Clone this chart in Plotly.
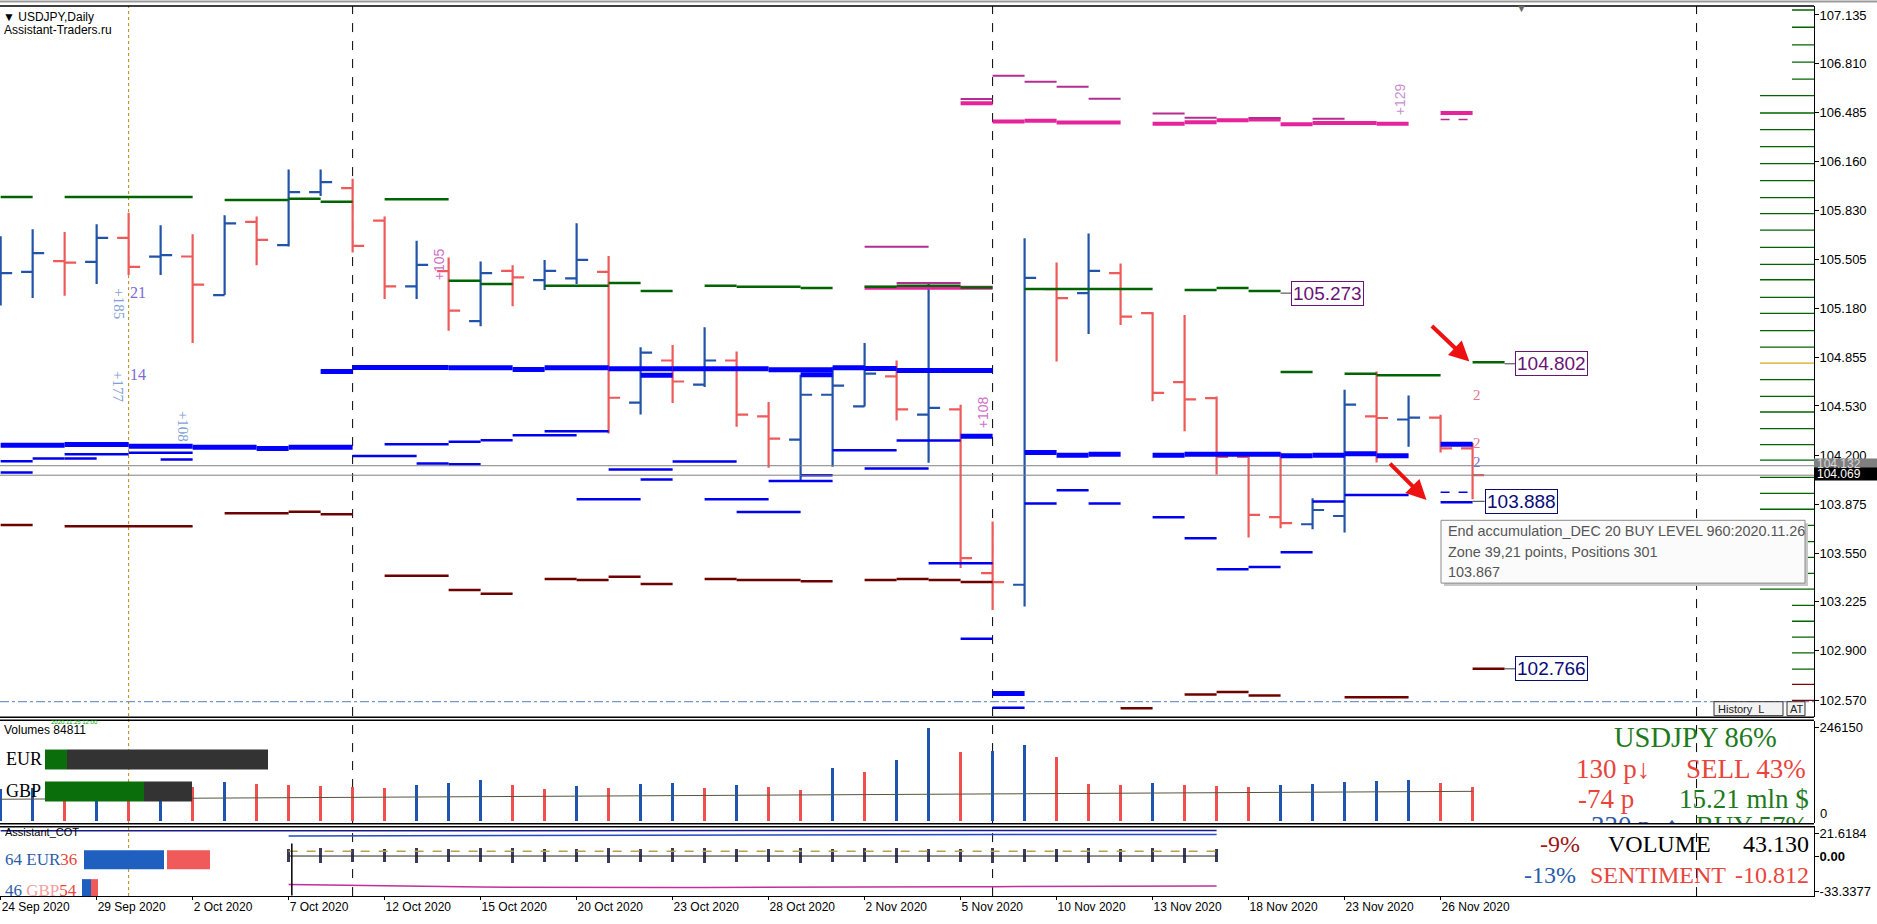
import plotly.graph_objects as go

# ---------------- DATA ----------------
bars = list(range(47))
opens = [105.400, 105.424, 105.495, 105.490, 105.650, 105.525, 105.526, 105.269, 105.756, 105.601,
         105.955, 105.982, 105.765, 105.327, 105.428, 105.096, 105.430, 105.369, 105.380, 105.424,
         104.552, 104.833, 104.672, 104.833, 104.461, 104.306, 104.605, 104.527, 104.727, 104.472,
         104.507, 103.417, 103.339, 105.309, 105.282, 105.415, 105.148, 104.689, 104.583, 104.191,
         103.790, 103.742, 103.797, 104.461, 104.440, 104.452, 104.247]
highs = [105.660, 105.707, 105.689, 105.741, 105.818, 105.734, 105.674, 105.800, 105.792, 106.106,
         106.106, 106.044, 105.792, 105.630, 105.519, 105.493, 105.468, 105.502, 105.747, 105.530,
         104.922, 104.937, 105.055, 104.893, 104.557, 104.738, 104.789, 104.950, 104.833, 105.353,
         104.539, 103.760, 105.648, 105.486, 105.679, 105.480, 105.154, 105.136, 104.594, 104.213,
         104.220, 103.915, 104.638, 104.760, 104.600, 104.472, 104.284]
lows = [105.200, 105.249, 105.264, 105.342, 105.402, 105.402, 104.950, 105.269, 105.468, 105.592,
        105.929, 105.553, 105.243, 105.243, 105.032, 105.061, 105.194, 105.302, 105.342, 104.346,
        104.474, 104.550, 104.656, 104.391, 104.118, 104.036, 104.125, 104.527, 104.434, 104.152,
        103.450, 103.171, 103.195, 104.826, 105.010, 105.070, 104.561, 104.361, 104.074, 103.654,
        103.715, 103.709, 103.687, 104.154, 104.258, 104.220, 103.908]
closes = [105.415, 105.548, 105.485, 105.650, 105.457, 105.535, 105.338, 105.747, 105.636, 105.955,
          106.022, 105.596, 105.327, 105.470, 105.165, 105.415, 105.387, 105.430, 105.503, 104.585,
          104.886, 104.693, 104.833, 104.472, 104.313, 104.605, 104.665, 104.745, 104.507, 104.517,
          103.516, 103.357, 105.384, 105.249, 105.430, 105.125, 104.618, 104.574, 104.191, 103.804,
          103.749, 103.837, 104.539, 104.450, 104.452, 104.247, 104.069]

tick_bars = [0, 3, 6, 9, 12, 15, 18, 21, 24, 27, 30, 33, 36, 39, 42, 45]
tick_labels = ["24 Sep 2020", "29 Sep 2020", "2 Oct 2020", "7 Oct 2020", "12 Oct 2020",
               "15 Oct 2020", "20 Oct 2020", "23 Oct 2020", "28 Oct 2020", "2 Nov 2020",
               "5 Nov 2020", "10 Nov 2020", "13 Nov 2020", "18 Nov 2020", "23 Nov 2020",
               "26 Nov 2020"]
price_ticks = [107.135, 106.810, 106.485, 106.160, 105.830, 105.505, 105.180, 104.855,
               104.530, 104.200, 103.875, 103.550, 103.225, 102.900, 102.570]

volumes = [84000, 88000, 80000, 91000, 86000, 97000, 90000, 103000, 98000, 95000,
           92000, 90000, 88000, 96000, 101000, 107000, 96000, 84000, 93000, 86000,
           98000, 101000, 88000, 94000, 90000, 82000, 141000, 128000, 162000, 246150,
           183000, 186000, 202000, 169000, 98000, 94000, 100000, 96000, 93000, 90000,
           95000, 98000, 102000, 105000, 107000, 101000, 89000]
vol_avg_bars = [0, 12, 24, 36, 46]
vol_avg = [56000, 61000, 66000, 72000, 77000]
vol_max_label = 246150

# level segments: (start bar, end bar, price)
green_levels = [(0, 1, 105.922), (2, 6, 105.922), (7, 9, 105.902), (9, 10, 105.911), (10, 11, 105.891),
                (12, 14, 105.907), (14, 15, 105.364), (15, 16, 105.342), (17, 19, 105.331),
                (19, 20, 105.349), (20, 21, 105.296), (22, 23, 105.331), (23, 25, 105.324),
                (25, 26, 105.316), (27, 28, 105.324), (28, 30, 105.331), (30, 31, 105.320),
                (32, 36, 105.309), (37, 38, 105.302), (38, 39, 105.316), (39, 40, 105.296),
                (40, 41, 104.756), (42, 43, 104.745), (43, 45, 104.734), (46, 47, 104.822)]
darkred_levels = [(0, 1, 103.737), (2, 6, 103.729), (7, 9, 103.815), (9, 10, 103.826), (10, 11, 103.808),
                  (12, 14, 103.399), (14, 15, 103.304), (15, 16, 103.279), (17, 18, 103.377),
                  (18, 19, 103.370), (19, 20, 103.392), (20, 21, 103.344), (22, 23, 103.377),
                  (23, 25, 103.370), (25, 26, 103.363), (27, 28, 103.370), (28, 29, 103.377),
                  (29, 30, 103.370), (30, 31, 103.357), (35, 36, 102.516), (37, 38, 102.608),
                  (38, 39, 102.624), (39, 40, 102.602), (42, 44, 102.590), (46, 47, 102.779)]
blue_thick_levels = [(0, 2, 104.269), (2, 4, 104.273), (4, 6, 104.262), (6, 8, 104.255), (8, 9, 104.246),
                     (9, 11, 104.255), (10, 11, 104.760), (11, 14, 104.786), (14, 16, 104.784),
                     (16, 17, 104.773), (17, 19, 104.784), (19, 21, 104.778), (21, 24, 104.778),
                     (24, 26, 104.771), (26, 27, 104.784), (27, 28, 104.780), (28, 31, 104.766),
                     (20, 21, 104.734), (25, 26, 104.738), (30, 31, 104.328), (31, 32, 102.615),
                     (32, 33, 104.220), (33, 34, 104.202), (34, 35, 104.209), (36, 37, 104.202),
                     (37, 40, 104.209), (40, 41, 104.198), (41, 42, 104.202), (42, 43, 104.211),
                     (43, 44, 104.198), (45, 46, 104.275)]
blue_thin_levels = [(0, 1, 104.162), (0, 1, 104.087), (1, 2, 104.180), (2, 4, 104.209), (2, 3, 104.180),
                    (4, 6, 104.218), (5, 6, 104.173), (11, 13, 104.196), (12, 14, 104.275),
                    (13, 14, 104.147), (14, 15, 104.291), (14, 15, 104.142), (15, 16, 104.302),
                    (16, 18, 104.335), (17, 19, 104.361), (18, 20, 103.908), (19, 21, 104.107),
                    (20, 21, 104.041), (21, 23, 104.160), (22, 24, 103.908), (23, 25, 103.824),
                    (24, 26, 104.030), (25, 26, 104.069), (26, 28, 104.235), (27, 29, 104.114),
                    (28, 30, 104.300), (29, 31, 103.483), (30, 31, 102.980), (31, 32, 102.520),
                    (32, 33, 103.881), (33, 34, 103.968), (34, 35, 103.881), (36, 37, 103.788),
                    (37, 38, 103.649), (38, 39, 103.443), (39, 40, 103.458), (40, 41, 103.556),
                    (41, 42, 103.893), (42, 44, 103.937), (45, 46, 103.888)]
blue_dashed_levels = [(45, 46, 103.955)]
magenta_thick_levels = [(27, 31, 105.318), (30, 31, 106.546), (31, 32, 106.425), (32, 33, 106.431),
                        (33, 35, 106.418), (36, 37, 106.411), (37, 38, 106.420), (38, 39, 106.433),
                        (39, 40, 106.438), (40, 41, 106.407), (41, 43, 106.416), (43, 44, 106.411),
                        (45, 46, 106.482)]
magenta_thin_levels = [(27, 29, 105.590), (28, 30, 105.349), (30, 31, 106.575), (31, 32, 106.730),
                       (32, 33, 106.690), (33, 34, 106.657), (34, 35, 106.577), (36, 37, 106.478),
                       (37, 38, 106.451), (39, 40, 106.449), (41, 42, 106.443)]
magenta_dashed_levels = [(45, 46, 106.438)]

# right-edge level profile: (price, kind)
profile_levels = [(107.168, 's'), (107.053, 's'), (106.936, 's'), (106.821, 's'), (106.708, 's'),
                  (106.597, 'l'), (106.482, 'l'), (106.371, 'l'), (106.258, 'l'), (106.144, 'l'),
                  (106.031, 'l'), (105.918, 'l'), (105.812, 'l'), (105.701, 'l'), (105.586, 'l'),
                  (105.473, 'l'), (105.371, 'l'), (105.253, 'l'), (105.147, 'l'), (105.032, 'l'),
                  (104.922, 'l'), (104.816, 'g'), (104.705, 'l'), (104.594, 'l'), (104.490, 'l'),
                  (104.379, 'l'), (104.273, 'l'), (104.169, 'l'), (104.054, 'l'), (103.948, 'l'),
                  (103.842, 'l'), (103.735, 'l'), (103.627, 'l'), (103.521, 'l'), (103.415, 'l'),
                  (103.310, 'l'), (103.202, 's'), (103.096, 's'), (102.990, 's'), (102.885, 's'),
                  (102.777, 's'), (102.675, 'r'), (102.569, 'r')]

box_texts = ["105.273", "104.802", "103.888", "102.766"]
box_bars = [40.34, 47.34, 46.38, 47.34]
box_prices = [105.282, 104.811, 103.895, 102.779]
box_from_bars = [40, 47, 46, 47]
box_colors = ["#6a1475", "#6a1475", "#0a0a78", "#0a0a78"]

bid_price = 104.069
ask_price = 104.132
history_level = 102.560
separator_bars = [4, 11, 31, 53]

# COT sub-window
cot_navy_bars = list(range(0, 39))
cot_navy = [24.0, 24.0, 24.0, 24.0, 24.0, 24.0, 24.0, 24.0, 24.0, 24.0, 24.1, 24.1, 24.2, 24.2, 24.2,
            24.3, 24.3, 24.3, 24.3, 24.4, 24.4, 24.4, 24.4, 24.5, 24.5, 24.5, 24.5, 24.5, 24.6, 24.6,
            24.6, 24.6, 24.5, 24.5, 24.5, 24.4, 24.4, 24.4, 24.3]
cot_bars = list(range(9, 39))
cot_blue = [19.0, 19.1, 19.2, 19.2, 19.3, 19.4, 19.5, 19.5, 19.6, 19.7, 19.8, 19.8, 19.9, 20.0, 20.0,
            20.1, 20.2, 20.2, 20.3, 20.3, 20.4, 20.4, 20.4, 20.5, 20.5, 20.5, 20.5, 20.5, 20.5, 20.5]
cot_pink = [-27.0, -27.5, -28.0, -28.4, -28.8, -29.1, -29.4, -29.6, -29.8, -29.9, -30.0, -30.0, -30.0,
            -29.9, -29.9, -29.8, -29.7, -29.6, -29.5, -29.4, -29.3, -29.2, -29.1, -29.0, -28.9, -28.8,
            -28.8, -28.7, -28.7, -28.6]
cot_hist_top = [6.5, 7.0, 6.0, 6.8, 7.2, 6.4, 6.9, 7.1, 6.2, 6.7, 7.0, 6.5, 6.9, 7.3, 6.6, 6.8, 7.0,
                6.3, 6.9, 7.1, 6.5, 6.8, 7.0, 6.4, 6.7, 7.2, 6.6, 6.9, 7.0, 6.5]
cot_hist_bottom = [-6.0, -6.5, -5.5, -6.2, -6.8, -5.9, -6.4, -6.6, -5.8, -6.1, -6.5, -6.0, -6.3, -6.9,
                   -6.1, -6.2, -6.6, -5.9, -6.4, -6.7, -6.0, -6.3, -6.5, -5.8, -6.2, -6.8, -6.1, -6.4,
                   -6.6, -6.0]
cot_signal = 4.5
cot_ticks = [21.6184, 0.0, -33.3377]
cot_tick_text = ["21.6184", "<b>0.00</b>", "-33.3377"]

# ---------------- LAYOUT HELPERS ----------------
FIG_W, FIG_H = 1877, 924
PLOT_W = 1814


def PX(x):
    return x / PLOT_W


def PY(y):
    return 1 - y / FIG_H


def dom(y_top, y_bot):
    return [PY(y_bot), PY(y_top)]


def seg_xy(segs):
    xs, ys = [], []
    for s, e, p in segs:
        xs += [s, e, None]
        ys += [p, p, None]
    return xs, ys


fig = go.Figure()


def add_levels(segs, color, width, dash='solid'):
    xs, ys = seg_xy(segs)
    fig.add_trace(go.Scatter(x=xs, y=ys, mode='lines', line=dict(color=color, width=width, dash=dash),
                             hoverinfo='skip', showlegend=False))


add_levels(magenta_thick_levels, '#E6239A', 4)
add_levels(magenta_thin_levels, '#B32E8E', 2)
add_levels(magenta_dashed_levels, '#B32E8E', 1.5, 'dash')
add_levels(green_levels, '#006400', 2.5)
add_levels(darkred_levels, '#6E0000', 2.5)
add_levels(blue_thin_levels, '#0000EE', 2.5)
add_levels(blue_dashed_levels, '#0000EE', 1.5, 'dash')
add_levels(blue_thick_levels, '#0000FF', 5)

# connectors to price boxes
cx, cy = [], []
for b0, b1, p in zip(box_from_bars, box_bars, box_prices):
    cx += [b0, b1, None]
    cy += [p, p, None]
fig.add_trace(go.Scatter(x=cx, y=cy, mode='lines', line=dict(color='#3a3a3a', width=1),
                         hoverinfo='skip', showlegend=False))

# right edge profile
X_END = 56.67
long_len, short_len = 54 / 32, 22 / 32
prof_styles = {'l': ('#006400', long_len), 's': ('#006400', short_len),
               'g': ('#DAA520', long_len), 'r': ('#800000', short_len)}
for kind in ['l', 's', 'g', 'r']:
    col, ln = prof_styles[kind]
    xs, ys = [], []
    for p, k in profile_levels:
        if k == kind:
            xs += [X_END - ln, X_END, None]
            ys += [p, p, None]
    fig.add_trace(go.Scatter(x=xs, y=ys, mode='lines', line=dict(color=col, width=1.3),
                             hoverinfo='skip', showlegend=False))

# bid / ask lines
for lvl in [ask_price, bid_price]:
    fig.add_trace(go.Scatter(x=[-0.02, X_END], y=[lvl, lvl], mode='lines',
                             line=dict(color='#808080', width=1), hoverinfo='skip', showlegend=False))

# price bars
fig.add_trace(go.Ohlc(x=bars, open=opens, high=highs, low=lows, close=closes,
                      increasing=dict(line=dict(color='#2153A8', width=2.2)),
                      decreasing=dict(line=dict(color='#EE5A5A', width=2.2)),
                      tickwidth=0.36, hoverinfo='skip', showlegend=False))

# volumes
vol_colors = ['#1F55B0' if i == 0 or volumes[i] >= volumes[i - 1] else '#EE5050' for i in range(len(volumes))]
fig.add_trace(go.Bar(x=bars, y=volumes, width=0.09, marker=dict(color=vol_colors, line=dict(width=0)),
                     yaxis='y2', hoverinfo='skip', showlegend=False))
fig.add_trace(go.Scatter(x=vol_avg_bars, y=vol_avg, mode='lines', line=dict(color='#555540', width=1),
                         yaxis='y2', hoverinfo='skip', showlegend=False))
fig.add_trace(go.Scatter(x=[50.51, 52.23, 54.73], y=[-21000] * 3, mode='text',
                         text=['-330 p', '↑', 'BUY 57%'], cliponaxis=True,
                         textfont=dict(family='Liberation Serif', size=27,
                                       color=['#2a5caa', '#2a5caa', '#1d7a1d']),
                         yaxis='y2', hoverinfo='skip', showlegend=False))

# COT
fig.add_trace(go.Bar(x=cot_bars, y=[t - b for t, b in zip(cot_hist_top, cot_hist_bottom)],
                     base=cot_hist_bottom, width=0.08, marker=dict(color='#3a3a5a', line=dict(width=0)),
                     yaxis='y3', hoverinfo='skip', showlegend=False))
fig.add_trace(go.Scatter(x=[cot_bars[0], cot_bars[-1]], y=[0, 0], mode='lines',
                         line=dict(color='#222222', width=1), yaxis='y3', hoverinfo='skip', showlegend=False))
fig.add_trace(go.Scatter(x=[cot_bars[0], cot_bars[-1]], y=[cot_signal, cot_signal], mode='lines',
                         line=dict(color='#B8A050', width=1.5, dash='dash'), yaxis='y3', hoverinfo='skip',
                         showlegend=False))
fig.add_trace(go.Scatter(x=cot_navy_bars, y=cot_navy, mode='lines', line=dict(color='#1a1a8c', width=1.5),
                         yaxis='y3', hoverinfo='skip', showlegend=False))
fig.add_trace(go.Scatter(x=cot_bars, y=cot_blue, mode='lines', line=dict(color='#2a48c8', width=1.5),
                         yaxis='y3', hoverinfo='skip', showlegend=False))
fig.add_trace(go.Scatter(x=cot_bars, y=cot_pink, mode='lines', line=dict(color='#C0309A', width=1.5),
                         yaxis='y3', hoverinfo='skip', showlegend=False))

# ---------------- SHAPES ----------------
shapes = []


def hline_px(y, x0=0, x1=PLOT_W, color='black', width=1):
    shapes.append(dict(type='line', xref='paper', yref='paper', x0=PX(x0), x1=PX(x1),
                       y0=PY(y), y1=PY(y), line=dict(color=color, width=width)))


def rect_px(x0, y0, x1, y1, fill, line=None, layer='above'):
    shapes.append(dict(type='rect', xref='paper', yref='paper', x0=PX(x0), x1=PX(x1),
                       y0=PY(y1), y1=PY(y0), fillcolor=fill, layer=layer,
                       line=dict(color=line if line else fill, width=1 if line else 0)))


# period separators
for i, b in enumerate(separator_bars):
    shapes.append(dict(type='line', xref='x', yref='paper', x0=b, x1=b, y0=PY(899), y1=PY(6),
                       layer='below',
                       line=dict(color='#B8860B' if i == 0 else '#000000', width=1,
                                 dash='dot' if i == 0 else 'dash')))
# history dash-dot level
shapes.append(dict(type='line', xref='paper', yref='y', x0=0, x1=1, y0=history_level, y1=history_level,
                   layer='below', line=dict(color='#7896C8', width=1.2, dash='dashdot')))
# COT left bound line
shapes.append(dict(type='line', xref='x', yref='y3', x0=cot_bars[0] + 0.1, x1=cot_bars[0] + 0.1,
                   y0=-37.5, y1=12, line=dict(color='black', width=1.5)))

# panel borders
hline_px(1.5, 0, FIG_W, '#9a9a9a', 2)
hline_px(6, 0, PLOT_W, 'black', 1.5)
hline_px(719.5, 0, PLOT_W, 'black', 1.5)
hline_px(722.5, 0, PLOT_W, 'black', 1.5)
hline_px(826.5, 0, PLOT_W, 'black', 1.5)
hline_px(829.5, 0, PLOT_W, 'black', 1.5)

# tooltip
rect_px(1444, 525, 1808, 588, '#c8c8c8')
rect_px(1441, 522, 1805, 585, '#fbfbfb', '#8c8c8c')
# history / AT buttons
rect_px(1714, 704, 1783, 718, '#f2f2f2', '#333333')
rect_px(1787, 704, 1805, 718, '#f2f2f2', '#333333')
# volume window currency strength boxes
rect_px(45, 752, 67, 772, '#0a6e0a')
rect_px(67, 752, 268, 772, '#333333')
rect_px(45, 784, 144, 804, '#0a6e0a')
rect_px(144, 784, 192, 804, '#333333')
# COT boxes
rect_px(84, 853, 164, 872, '#1f5fc0')
rect_px(167, 853, 210, 872, '#f05a5a')
rect_px(82, 882, 91, 899, '#1f5fc0')
rect_px(91, 882, 98, 899, '#f05a5a')
# price label boxes on axis
rect_px(1814, 460, 1877, 471, '#7f7f7f')
rect_px(1814, 469, 1877, 482, '#000000')

# ---------------- ANNOTATIONS ----------------
ann = []


def note_px(x, y, text, size=12, color='black', family='Liberation Sans', xanchor='left', **kw):
    ann.append(dict(xref='paper', yref='paper', x=PX(x), y=PY(y), text=text, showarrow=False,
                    xanchor=xanchor, yanchor='middle',
                    font=dict(size=size, color=color, family=family), **kw))


def note_data(x, y, text, size=15, color='black', family='Liberation Serif', angle=0, **kw):
    ann.append(dict(xref='x', yref='y', x=x, y=y, text=text, showarrow=False, textangle=angle,
                    xanchor='center', yanchor='middle',
                    font=dict(size=size, color=color, family=family), **kw))


note_px(1, 17, '▼ USDJPY,Daily', 12)
note_px(2, 30, 'Assistant-Traders.ru', 12)
note_px(1521, 8, '▼', 11, '#6a6a6a', xanchor='center')

# chart texts
note_data(3.69, 105.209, '+185', 15, '#7f9fd8', angle=90)
note_data(4.28, 105.289, '21', 16, '#7a6ad8')
note_data(3.69, 104.658, '+177', 15, '#7f9fd8', angle=90)
note_data(4.28, 104.738, '14', 16, '#7a6ad8')
note_data(5.72, 104.393, '+108', 15, '#7f9fd8', angle=90)
note_data(13.70, 105.475, '+105', 14, '#d070c8', 'Liberation Sans', angle=-90)
note_data(30.69, 104.486, '+108', 14, '#d070c8', 'Liberation Sans', angle=-90)
note_data(43.72, 106.571, '+129', 14, '#c890d0', 'Liberation Sans', angle=-90)
note_data(46.13, 104.605, '2', 15, '#e07a8a')
note_data(46.13, 104.286, '2', 15, '#e07a8a')
note_data(46.13, 104.160, '2', 15, '#7a70d0')

# boxed price labels
for t, b, p, c in zip(box_texts, box_bars, box_prices, box_colors):
    ann.append(dict(xref='x', yref='y', x=b, y=p, text=t, showarrow=False, xanchor='left',
                    yanchor='middle', bgcolor='white', bordercolor=c, borderwidth=1, borderpad=1,
                    font=dict(size=19, color=c, family='Liberation Sans')))

# red arrows
for (tx, ty), (axp, ayp) in zip([(45.9, 104.826), (44.56, 103.903)], [(-39, -37), (-38, -38)]):
    ann.append(dict(xref='x', yref='y', x=tx, y=ty, ax=axp, ay=ayp, text='', showarrow=True,
                    arrowhead=2, arrowsize=1, arrowwidth=4, arrowcolor='#EE1111', standoff=0))

# tooltip text
note_px(1446, 533, 'End accumulation_DEC 20 BUY LEVEL 960:2020.11.26', 14.4, '#555555')
note_px(1446, 554, 'Zone 39,21 points, Positions 301', 14.4, '#555555')
note_px(1446, 574, '103.867', 14.4, '#555555')
note_px(1716, 711, 'History  L', 11, '#222222')
note_px(1788, 711, 'AT', 11, '#222222')

# axis price boxes
note_px(1815, 465.5, '104.132', 12, '#d8d8d8')
note_px(1815, 475.5, '104.069', 12, 'white')

# volume window
note_px(2, 732, 'Volumes 84811', 12)
note_px(49, 724, '2020.11.25 12:00', 6, '#00a000')
note_px(4, 761, 'EUR', 18, 'black', 'Liberation Serif')
note_px(4, 794, 'GBP', 18, 'black', 'Liberation Serif')
ann.append(dict(xref='paper', yref='y2', x=PX(1818), y=0, yshift=7, text='0', showarrow=False,
                xanchor='left', yanchor='middle', font=dict(size=13, color='black', family='Liberation Sans')))
SERIF = 'Liberation Serif'
note_px(1779, 740, 'USDJPY 86%', 28.5, '#1d7a1d', SERIF, xanchor='right')
note_px(1574, 772, '130 p↓', 27, '#e8453c', SERIF)
note_px(1808, 772, 'SELL 43%', 27, '#e8453c', SERIF, xanchor='right')
note_px(1576, 802, '-74 p', 27, '#e8453c', SERIF)
note_px(1811, 802, '15.21 mln $', 27, '#1d7a1d', SERIF, xanchor='right')

# COT window
note_px(3, 835, 'Assistant_COT', 11)
note_px(3, 862, '<span style="color:#2a5caa">64 EUR</span><span style="color:#e8453c">36</span>', 17,
        'black', SERIF)
note_px(3, 893, '<span style="color:#2a5caa">46 </span><span style="color:#f4a0a0">GBP</span>'
                '<span style="color:#e8453c">54</span>', 17, 'black', SERIF)
note_px(1538, 847, '-9%', 24, '#a01818', SERIF)
note_px(1606, 847, 'VOLUME', 24, 'black', SERIF)
note_px(1811, 847, '43.130', 24, 'black', SERIF, xanchor='right')
note_px(1522, 878, '-13%', 24, '#2a5caa', SERIF)
note_px(1588, 878, 'SENTIMENT', 24, '#e8453c', SERIF)
note_px(1811, 878, '-10.812', 24, '#e8453c', SERIF, xanchor='right')

# ---------------- AXES ----------------
main_range = [102.4603, 107.1948]
vol_range = [-7940, 264677]
cot_range = [-38.07, 28.25]
axis_font = dict(family='Liberation Sans', size=13, color='black')

fig.update_layout(
    width=FIG_W, height=FIG_H, autosize=False,
    margin=dict(l=0, r=FIG_W - PLOT_W, t=0, b=0),
    paper_bgcolor='white', plot_bgcolor='white',
    font=dict(family='Liberation Sans', color='black'),
    hovermode=False, showlegend=False, bargap=0,
    xaxis=dict(domain=[0, 1], range=[-0.02, X_END], anchor='y3', showgrid=False, zeroline=False,
               tickvals=tick_bars, ticktext=tick_labels, ticks='outside', ticklen=3, tickcolor='black',
               ticklabelposition='outside right', tickfont=dict(family='Liberation Sans', size=12),
               showline=True, linecolor='black', linewidth=1, rangeslider=dict(visible=False),
               fixedrange=True),
    yaxis=dict(domain=dom(6, 719), range=main_range, side='right', anchor='x', showgrid=False,
               zeroline=False, tickvals=price_ticks, ticktext=[f'{v:.3f}' for v in price_ticks],
               ticks='outside', ticklen=4, tickcolor='black', showline=True, linecolor='black',
               linewidth=1, tickfont=axis_font, ticklabelstandoff=-2, fixedrange=True),
    yaxis2=dict(domain=dom(723, 826), range=vol_range, side='right', anchor='x', showgrid=False,
                zeroline=False, tickvals=[vol_max_label], ticktext=[str(vol_max_label)],
                ticks='outside', ticklen=4, tickcolor='black', showline=True, linecolor='black',
                linewidth=1, tickfont=axis_font, ticklabelstandoff=-2, fixedrange=True),
    yaxis3=dict(domain=dom(829, 899), range=cot_range, side='right', anchor='x', showgrid=False,
                zeroline=False, tickvals=cot_ticks, ticktext=cot_tick_text, ticks='outside', ticklen=4,
                tickcolor='black', showline=True, linecolor='black', linewidth=1, tickfont=axis_font,
                ticklabelstandoff=-2, fixedrange=True),
    shapes=shapes, annotations=ann,
)

fig.write_html("out.html", config={'displayModeBar': False},
               post_script="document.body.style.margin='0px';document.body.style.overflow='hidden';")
